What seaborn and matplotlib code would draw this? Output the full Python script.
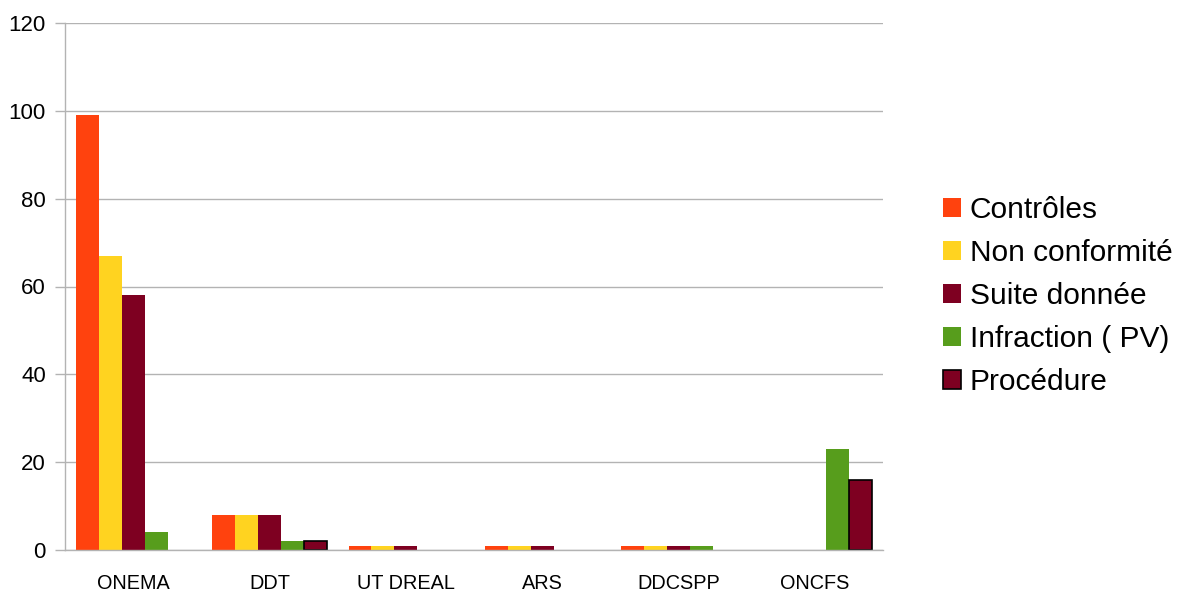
import matplotlib
matplotlib.use("Agg")
import matplotlib.pyplot as plt
import seaborn as sns
import pandas as pd
import numpy as np
from matplotlib.patches import Patch

categories = ["ONEMA", "DDT", "UT DREAL", "ARS", "DDCSPP", "ONCFS"]
series_names = ["Contrôles", "Non conformité", "Suite donnée", "Infraction ( PV)", "Procédure"]
controles = [99, 8, 1, 1, 1, 0]
non_conformite = [67, 8, 1, 1, 1, 0]
suite_donnee = [58, 8, 1, 1, 1, 0]
infraction = [4, 2, 0, 0, 1, 23]
procedure = [0, 2, 0, 0, 0, 16]
yticks = [0, 20, 40, 60, 80, 100, 120]

colors = ["#FF420E", "#FFD320", "#7E0021", "#579D1C", "#7E0021"]

rows = []
for s, vals in zip(series_names, [controles, non_conformite, suite_donnee, infraction, procedure]):
    for c, v in zip(categories, vals):
        rows.append({"cat": c, "serie": s, "val": v})
df = pd.DataFrame(rows)

sns.set_theme(style="white")
plt.rcParams["font.family"] = ["Liberation Sans", "DejaVu Sans"]
plt.rcParams["text.color"] = "black"
plt.rcParams["xtick.labelcolor"] = "black"
plt.rcParams["ytick.labelcolor"] = "black"

fig = plt.figure(figsize=(11.82, 5.93), dpi=100)
ax = fig.add_axes([65/1182, 43/593, (883-65)/1182, (550-23)/593])

sns.barplot(data=df, x="cat", y="val", hue="serie", order=categories,
            hue_order=series_names, palette=colors, ax=ax, width=0.84,
            saturation=1, legend=False, errorbar=None, linewidth=0)

# black edge for Procédure
for p in ax.containers[4]:
    if p.get_height() > 0:
        p.set_edgecolor("black")
        p.set_linewidth(1.2)
for cont in ax.containers[:4]:
    for p in cont:
        p.set_linewidth(0)

ax.set_xlim(-0.5, len(categories) - 0.5)
ax.set_ylim(0, 120)
ax.set_yticks(yticks)
ax.set_yticklabels([str(t) for t in yticks], fontsize=16)
ax.set_xlabel("")
ax.set_ylabel("")
ax.tick_params(axis="x", which="major", length=0, pad=17, labelsize=14.3, labelcolor="black")
ax.set_xticks(np.arange(-0.5, len(categories)), minor=True)
ax.tick_params(axis="x", which="minor", length=8.6, color="#b3b3b3", width=1)
ax.tick_params(axis="y", length=7.2, color="#b3b3b3", width=1, left=True, pad=6.5, labelcolor="black")
ax.yaxis.grid(True, color="#b3b3b3", linewidth=1)
ax.set_axisbelow(True)
for side in ["top", "right"]:
    ax.spines[side].set_visible(False)
for side in ["left", "bottom"]:
    ax.spines[side].set_color("#b3b3b3")
    ax.spines[side].set_linewidth(1)

handles = []
for i, (s, col) in enumerate(zip(series_names, colors)):
    ec = "black" if i == 4 else col
    handles.append(Patch(facecolor=col, edgecolor=ec, linewidth=1.2 if i == 4 else 0, label=s))
fig.legend(handles=handles, loc="center left", bbox_to_anchor=(931/1182, 297/593),
           frameon=False, fontsize=21.5, handlelength=0.62, handleheight=0.62,
           handletextpad=0.27, labelspacing=0.5, borderaxespad=0, labelcolor="black")

fig.savefig("out.png", dpi=100)
